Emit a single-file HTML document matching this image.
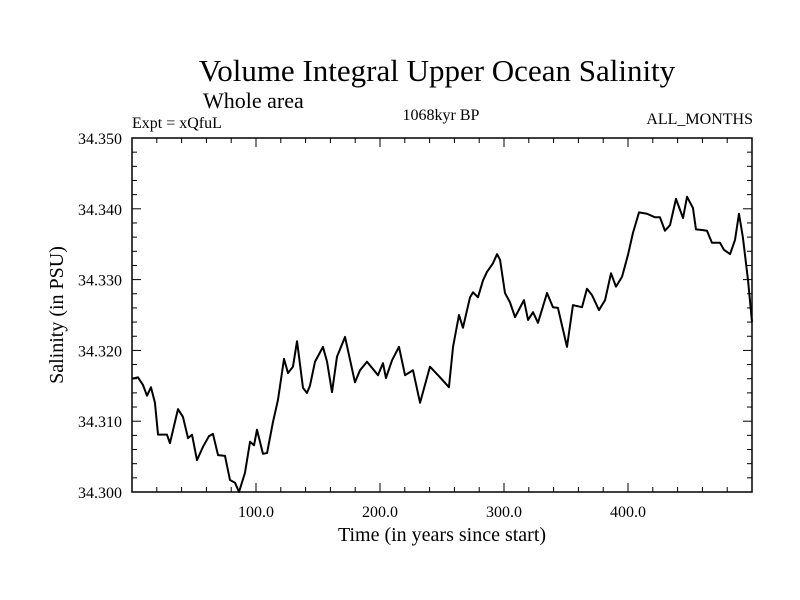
<!DOCTYPE html>
<html><head><meta charset="utf-8"><style>
html,body{margin:0;padding:0;background:#fff;}
svg{display:block;font-family:"Liberation Serif",serif;}
</style></head><body>
<svg id="chart" width="800" height="600" xmlns="http://www.w3.org/2000/svg">
<rect x="0" y="0" width="800" height="600" fill="#fff"/>
<text x="437" y="81" font-size="31" text-anchor="middle">Volume Integral Upper Ocean Salinity</text>
<text x="203" y="108" font-size="22">Whole area</text>
<text x="132" y="128" font-size="16">Expt = xQfuL</text>
<text x="441" y="120" font-size="16" text-anchor="middle">1068kyr BP</text>
<text x="753" y="124" font-size="16" text-anchor="end">ALL_MONTHS</text>
<text x="442" y="541" font-size="20" text-anchor="middle">Time (in years since start)</text>
<text transform="translate(63,315) rotate(-90)" font-size="20" text-anchor="middle">Salinity (in PSU)</text>
<g id="axes"></g>
<path id="line" fill="none" stroke="#000" stroke-width="2" stroke-linejoin="round"/>
<rect x="132" y="138" width="620" height="354" fill="none" stroke="#000" stroke-width="1.5"/>
</svg>
<script>
const years = [0,4.8,8.9,12.1,15.3,18.5,21,28.2,30.6,37.1,41.1,45.2,48.4,52.4,57.3,62.1,65.3,69.4,75,79,83.1,86.3,91.1,95.2,98.4,100.8,105.6,108.9,113.7,117.7,122.6,125.8,129.8,133.1,137.9,141.1,143.5,147.6,154,157.3,161.3,165.3,171.8,179.8,183.9,189.5,198.4,202.4,204.8,209.7,215.3,220.2,226.6,232.3,240.3,248.4,255.6,258.9,263.7,266.9,272.6,275,279,283.1,286.3,291.1,294.4,296.8,300.8,304.8,308.9,316.1,319.4,323.4,327.4,334.7,339.5,343.5,350.8,355.6,362.9,366.9,371,376.6,381.5,386.3,390.3,395.2,400,404,408.9,415.3,421.8,425.8,429.8,433.9,438.7,444.4,447.6,452.4,454.8,459.7,463.7,467.7,474.2,477.4,482.3,486.3,489.5,492.7,496.8,500];
const salinity = [34.3160,34.3162,34.3151,34.3136,34.3148,34.3126,34.3081,34.3081,34.3069,34.3117,34.3106,34.3076,34.3081,34.3045,34.3064,34.3079,34.3082,34.3052,34.3051,34.3017,34.3013,34.3000,34.3027,34.3071,34.3066,34.3088,34.3054,34.3055,34.3099,34.3130,34.3188,34.3168,34.3177,34.3213,34.3147,34.3140,34.3150,34.3184,34.3205,34.3184,34.3141,34.3191,34.3219,34.3155,34.3172,34.3184,34.3165,34.3182,34.3161,34.3186,34.3205,34.3165,34.3172,34.3126,34.3177,34.3162,34.3148,34.3205,34.3250,34.3232,34.3275,34.3282,34.3275,34.3299,34.3311,34.3323,34.3336,34.3328,34.3281,34.3268,34.3247,34.3271,34.3243,34.3254,34.3239,34.3281,34.3261,34.3260,34.3205,34.3264,34.3261,34.3287,34.3278,34.3257,34.3271,34.3309,34.3290,34.3304,34.3335,34.3366,34.3395,34.3393,34.3388,34.3388,34.3369,34.3377,34.3414,34.3387,34.3417,34.3401,34.3371,34.3370,34.3369,34.3352,34.3352,34.3342,34.3336,34.3356,34.3393,34.3359,34.3299,34.3240];
const xMajorTicks = [100,200,300,400];
const xTickLabels = ["100.0","200.0","300.0","400.0"];
const yMajorTicks = [34.30,34.31,34.32,34.33,34.34,34.35];
const yTickLabels = ["34.300","34.310","34.320","34.330","34.340","34.350"];

const X0=132,X1=752,Y0=492,Y1=138;
const xMin=0,xMax=500,yMin=34.30,yMax=34.35;
function sx(v){return X0+(v-xMin)/(xMax-xMin)*(X1-X0);}
function sy(v){return Y0-(v-yMin)/(yMax-yMin)*(Y0-Y1);}
const NS="http://www.w3.org/2000/svg";
const axes=document.getElementById('axes');
function mk(tag,attrs){const e=document.createElementNS(NS,tag);for(const k in attrs)e.setAttribute(k,attrs[k]);axes.appendChild(e);return e;}
// x ticks (minor every 20)
for(let v=20;v<500;v+=20){
  const maj=v%100===0, L=maj?9:5, x=sx(v);
  const t1=mk('line',{x1:x,x2:x,y1:Y0,y2:Y0-L,stroke:'#000','stroke-width':1});
  
  
  const t2=mk('line',{x1:x,x2:x,y1:Y1,y2:Y1+L,stroke:'#000','stroke-width':1});
  
  
}
xMajorTicks.forEach((v,i)=>{
  const t=mk('text',{x:sx(v),y:Y0+25,'font-size':16,'text-anchor':'middle'});
  t.textContent=xTickLabels[i];
  
  
});
// y ticks (minor every 0.002)
for(let k=1;k<25;k++){
  const v=yMin+k*0.002, maj=k%5===0, L=maj?9:5, y=sy(v);
  const t1=mk('line',{x1:X0,x2:X0+L,y1:y,y2:y,stroke:'#000','stroke-width':1});
  
  
  const t2=mk('line',{x1:X1,x2:X1-L,y1:y,y2:y,stroke:'#000','stroke-width':1});
  
  
}
yMajorTicks.forEach((v,i)=>{
  const t=mk('text',{x:X0-10,y:sy(v)+6,'font-size':16,'text-anchor':'end'});
  t.textContent=yTickLabels[i];
  
  
});
let d='';
years.forEach((yr,i)=>{d+=(i?'L':'M')+sx(yr).toFixed(2)+','+sy(salinity[i]).toFixed(2);});
document.getElementById('line').setAttribute('d',d);
</script>
</body></html>
